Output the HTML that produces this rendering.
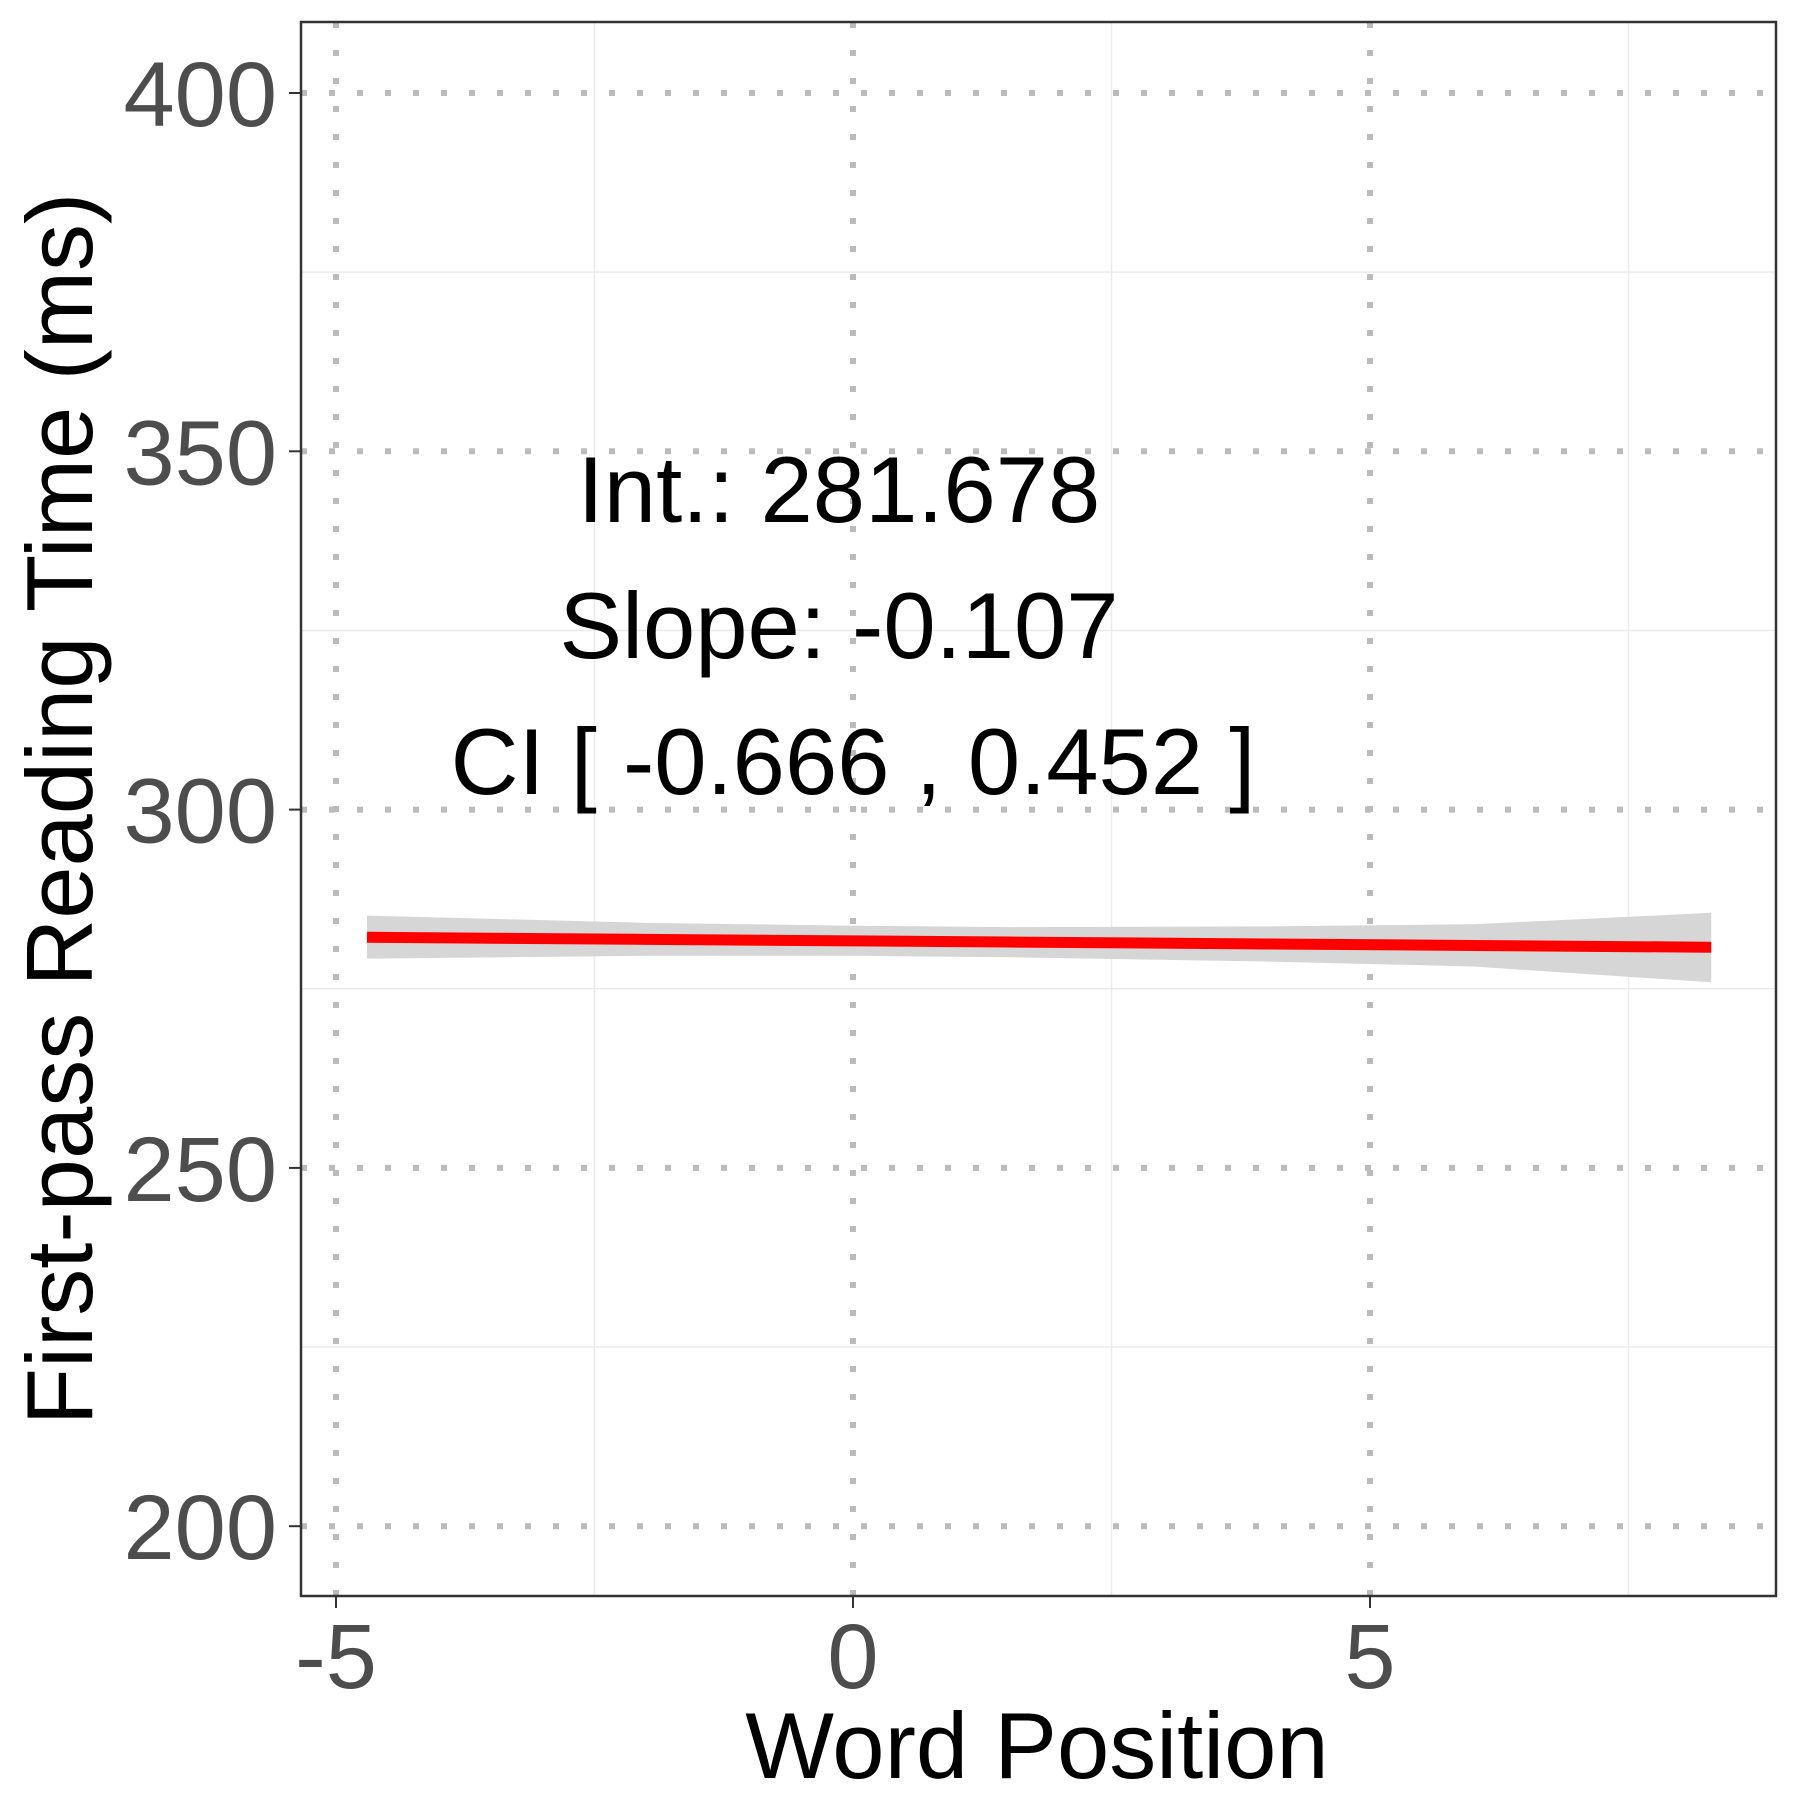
<!DOCTYPE html>
<html><head><meta charset="utf-8"><style>body{margin:0;background:#fff}svg{display:block}text{font-family:"Liberation Sans",Arial,sans-serif}</style></head>
<body>
<svg id="c" width="1800" height="1800" xmlns="http://www.w3.org/2000/svg"></svg>
<script>
const xTicks=[-5,0,5];
const yTicks=[200,250,300,350,400];
const xMinor=[-2.5,2.5,7.5];
const yMinor=[225,275,325,375];
const fitX=[-4.7,-2,0,1.5,4,6,8.3];
const fitY=[282.18,281.89,281.68,281.52,281.25,281.04,280.79];
const ciLo=[279.2,279.6,279.6,279.4,278.8,278.1,275.9];
const ciHi=[285.2,284.2,283.8,283.6,283.7,284.0,285.6];
const notes=["Int.: 281.678","Slope: -0.107","CI [ -0.666 , 0.452 ]"];
const L=301,R=1776,T=22,B=1596;
const sx=v=>853+(v)*103.4;
const sy=v=>93+(400-v)*7.166;
const s=document.getElementById('c');const NS="http://www.w3.org/2000/svg";
function el(t,a,p){const e=document.createElementNS(NS,t);for(const k in a)e.setAttribute(k,a[k]);(p||s).appendChild(e);return e;}
let e;
e=el('rect',{x:L,y:T,width:R-L,height:B-T,fill:'#fff'});


xMinor.forEach(v=>{e=el('line',{x1:sx(v),x2:sx(v),y1:T,y2:B,stroke:'#ebebeb','stroke-width':1.5});

});
yMinor.forEach(v=>{e=el('line',{x1:L,x2:R,y1:sy(v),y2:sy(v),stroke:'#ebebeb','stroke-width':1.5});

});
xTicks.forEach(v=>{e=el('line',{x1:sx(v),x2:sx(v),y1:T,y2:B,stroke:'#bbb','stroke-width':6,'stroke-dasharray':'6 22'});


e=el('line',{x1:sx(v),x2:sx(v),y1:B,y2:B+12,stroke:'#333','stroke-width':2});


e=el('text',{x:sx(v),y:1688,'font-size':92,fill:'#4d4d4d','text-anchor':'middle'});e.textContent=v;

});
yTicks.forEach(v=>{e=el('line',{x1:L,x2:R,y1:sy(v),y2:sy(v),stroke:'#bbb','stroke-width':6,'stroke-dasharray':'6 22'});


e=el('line',{x1:L-12,x2:L,y1:sy(v),y2:sy(v),stroke:'#333','stroke-width':2});


e=el('text',{x:277,y:sy(v)+33,'font-size':92,fill:'#4d4d4d','text-anchor':'end'});e.textContent=v;

});
let d='M'+fitX.map((x,i)=>sx(x)+','+sy(ciHi[i])).join('L');
for(let i=fitX.length-1;i>=0;i--)d+='L'+sx(fitX[i])+','+sy(ciLo[i]);
e=el('path',{d:d+'Z',fill:'#d6d6d6'});


e=el('polyline',{points:fitX.map((x,i)=>sx(x)+','+sy(fitY[i])).join(' '),fill:'none',stroke:'#ff0000','stroke-width':11});


const ny=[522,658,794];
const nx=[839,839,853];
notes.forEach((t,i)=>{e=el('text',{x:nx[i],y:ny[i],'font-size':94,fill:'#000','text-anchor':'middle'});e.textContent=t;

});
e=el('rect',{x:L,y:T,width:R-L,height:B-T,fill:'none',stroke:'#333','stroke-width':2.5});


e=el('text',{x:1037,y:1778,'font-size':94,fill:'#000','text-anchor':'middle'});e.textContent='Word Position';


e=el('text',{x:0,y:0,'font-size':94,fill:'#000','text-anchor':'middle',transform:'translate(92,809) rotate(-90)'});e.textContent='First-pass Reading Time (ms)';


</script>
</body></html>
